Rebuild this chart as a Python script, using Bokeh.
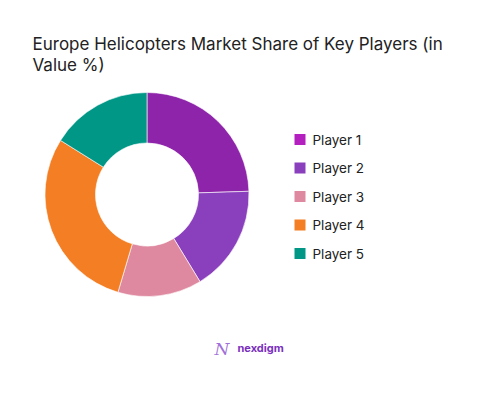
import math
from bokeh.plotting import figure
from bokeh.models import Range1d, ColumnDataSource
from bokeh.core.properties import value
from bokeh.embed import file_html
from bokeh.resources import INLINE

# ---- data ----
players = ["Player 1", "Player 2", "Player 3", "Player 4", "Player 5"]
shares = [24.5, 16.8, 13.3, 29.3, 16.1]
slice_colors = ["#8E24AA", "#8A40BC", "#DE89A0", "#F47E23", "#009787"]
legend_colors = ["#B41FC0", "#8A40BC", "#DE89A0", "#F47E23", "#009787"]
title_lines = ["Europe Helicopters Market Share of Key Players (in", "Value %)"]
brand = "nexdigm"

W, H = 477, 379
p = figure(width=W, height=H, output_backend="svg", toolbar_location=None,
           x_range=Range1d(0, W), y_range=Range1d(0, H), min_border=0,
           outline_line_color=None, background_fill_color="white",
           border_fill_color="white")
p.axis.visible = False
p.grid.visible = False


def Y(ys):
    # screen y (page px) -> data y
    return H - ys


def X(xs):
    return xs


# donut
total = sum(shares)
starts, ends = [], []
acc = 0.0
for s in shares:
    a0 = math.pi / 2 - 2 * math.pi * acc / total
    acc += s
    a1 = math.pi / 2 - 2 * math.pi * acc / total
    starts.append(a0)
    ends.append(a1)

cx, cy = X(146.5), Y(194)
src = ColumnDataSource(dict(start=starts, end=ends, color=slice_colors, name=players))
p.annular_wedge(x=cx, y=cy, inner_radius=51.5, outer_radius=102,
                start_angle="start", end_angle="end", direction="clock",
                fill_color="color", line_color="white", line_width=0.6, source=src)

# title
p.text(x=[X(32)] * 2, y=[Y(43), Y(64)], text=title_lines,
       text_font=value("Inter"), text_font_size="17px", text_color="#222222",
       text_baseline="alphabetic", text_align="left")

# legend
row_y = [139 + i * 28.5 for i in range(len(players))]
p.scatter(x=[X(299.5)] * len(players), y=[Y(v) for v in row_y], marker="square",
          size=11, fill_color=legend_colors, line_color=None)
p.text(x=[X(312)] * len(players), y=[Y(v) for v in row_y], text=players,
       text_font=value("Inter"), text_font_size="13.5px", text_color="#222222",
       text_baseline="middle", text_align="left")

# brand mark
p.text(x=[X(214)], y=[Y(348)], text=["N"], text_font=value("DejaVu Serif"),
       text_font_style="italic", text_font_size="17px", text_color="#A070D8",
       text_baseline="middle", text_align="left")
p.text(x=[X(237)], y=[Y(347)], text=[brand], text_font=value("Inter"),
       text_font_style="bold", text_font_size="11px", text_color="#7B2FBE",
       text_baseline="middle", text_align="left")

open("out.html", "w").write(file_html(p, INLINE))
